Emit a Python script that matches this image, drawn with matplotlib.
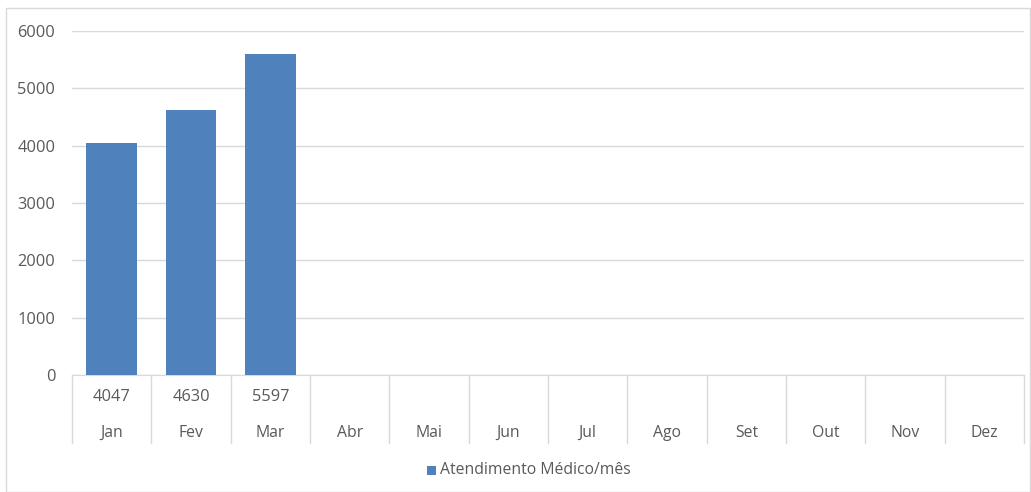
import matplotlib.pyplot as plt
import matplotlib.transforms as mtransforms
from matplotlib.patches import Rectangle

meses = ['Jan', 'Fev', 'Mar', 'Abr', 'Mai', 'Jun', 'Jul', 'Ago', 'Set', 'Out', 'Nov', 'Dez']
atendimentos = [4047, 4630, 5597]
yticks = [0, 1000, 2000, 3000, 4000, 5000, 6000]

plt.rcParams['font.family'] = ['Open Sans', 'DejaVu Sans']
cinza = '#595959'
linha = '#d9d9d9'
azul = '#4f81bd'

W, H = 1031, 492
fig = plt.figure(figsize=(W / 100, H / 100), dpi=100)
ax = fig.add_axes([72 / W, 1 - 375 / H, (1024 - 72) / W, (375 - 31) / H])

# borda do gráfico
fig.patches.append(Rectangle((6 / W, 0), (W - 7) / W, 1 - 8 / H, transform=fig.transFigure,
                             fill=False, edgecolor=linha, linewidth=1))

x = list(range(len(atendimentos)))
ax.bar(x, atendimentos, width=0.64, color=azul, zorder=3)

ax.set_xlim(-0.5, len(meses) - 0.5)
ax.set_ylim(0, 6000)
ax.set_yticks(yticks)
ax.set_yticklabels([str(v) for v in yticks], fontsize=11.8, color=cinza)
ax.tick_params(axis='y', length=0, pad=12)
ax.tick_params(axis='x', length=0, labelbottom=False)
ax.grid(axis='y', color=linha, linewidth=1, zorder=0)
for s in ['top', 'right', 'left']:
    ax.spines[s].set_visible(False)
ax.spines['bottom'].set_color(linha)

# tabela de dados abaixo do eixo
trans = mtransforms.blended_transform_factory(ax.transData, ax.transAxes)
fundo = -68 / 344
for i in range(len(meses) + 1):
    ax.plot([i - 0.5, i - 0.5], [0, fundo], color=linha, linewidth=1,
            transform=trans, clip_on=False)
for i, m in enumerate(meses):
    ax.text(i, -58 / 344, m, transform=trans, ha='center', va='center',
            fontsize=11.3, color=cinza)
for i, v in enumerate(atendimentos):
    ax.text(i, -22 / 344, str(v), transform=trans, ha='center', va='center',
            fontsize=11.8, color=cinza)

# legenda
fig.patches.append(Rectangle((427 / W, 1 - 475 / H), 9 / W, 9 / H, transform=fig.transFigure,
                             facecolor=azul, edgecolor='none'))
fig.text(440 / W, 1 - 470 / H, 'Atendimento Médico/mês', ha='left', va='center',
         fontsize=11.3, color=cinza)

fig.savefig('out.png', dpi=100)
